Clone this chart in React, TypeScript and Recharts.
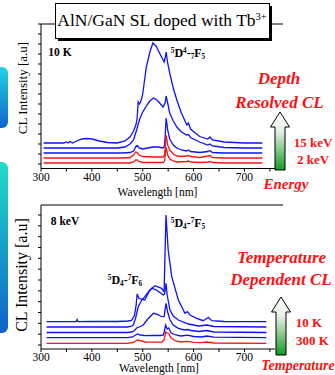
import React from 'react';
import { LineChart, Line, XAxis, YAxis } from 'recharts';

const blue = '#1010ff';
const red = '#ff1010';
const serif = "'Times New Roman', 'Liberation Serif', 'DejaVu Serif', serif";

// wavelength ticks (nm), only hundreds are labelled
const xTicks = [300, 350, 400, 450, 500, 550, 600, 650, 700, 750];

// depth resolved CL at 10 K, curves from top (15 keV) to bottom (2 keV)
const depth1 = [[305, 21], [345, 21], [350, 22], [353, 21], [357, 22.5], [362, 21], [370, 23], [380, 25], [390, 25.5], [400, 25], [415, 23], [430, 21.5], [450, 21], [465, 23], [475, 27], [482, 33], [487, 40], [489, 46], [491, 62], [493, 60], [496, 62], [500, 70], [507, 97], [514, 112], [520, 121], [526, 118], [533, 111], [538, 106], [542, 102], [544, 106], [546, 112], [549, 101], [553, 91], [560, 76], [567, 64], [576, 51], [584, 42], [587, 39], [590, 41], [594, 35], [612, 27.5], [628, 25], [632, 27], [637, 24], [660, 22], [700, 21], [735, 21]];
const depth2 = [[305, 16], [450, 16], [465, 17], [475, 20], [482, 24], [488, 34], [494, 45], [500, 52], [507, 58], [514, 63], [521, 66], [528, 64], [535, 60], [540, 57], [544, 61], [546, 68], [549, 61], [553, 51], [560, 43], [567, 37], [576, 32], [586, 29], [590, 29.5], [594, 26.5], [612, 22], [628, 19], [632, 20], [637, 18], [660, 16.5], [700, 16], [735, 16]];
const depth3 = [[305, 11], [460, 11], [475, 11.5], [482, 13], [486, 17], [489, 18.5], [493, 16], [500, 15], [510, 16], [520, 17], [530, 17], [540, 16], [543, 18], [546, 46], [549, 34], [553, 25], [560, 19], [567, 16], [576, 14], [586, 13], [590, 14], [594, 12.5], [612, 11.5], [628, 12.5], [632, 13.5], [637, 11.5], [660, 11], [735, 11]];
const depth4 = [[305, 6], [460, 6], [475, 6.5], [482, 9], [486, 12], [489, 11.5], [493, 9], [500, 7.5], [520, 7], [540, 7], [543, 9], [546, 29], [549, 19], [553, 14], [560, 10], [567, 8], [576, 7.5], [586, 8], [590, 8.5], [594, 7.5], [612, 6.5], [628, 8], [632, 8.5], [637, 6.5], [660, 6], [735, 6]];
const depth5 = [[305, 1], [460, 1], [475, 1], [482, 2], [486, 4], [489, 4], [493, 2.5], [500, 1.5], [540, 1.5], [543, 3], [546, 17], [549, 9], [553, 5], [560, 3], [567, 2], [586, 2.5], [590, 3], [594, 2], [612, 1.5], [628, 2], [632, 2.5], [637, 1.5], [660, 1], [735, 1]];

// temperature dependent CL at 8 keV, curves from top (10 K) to bottom (300 K)
const temp1 = [[311, 23.3], [365, 23.3], [369, 23.3], [371, 25.5], [373, 23.3], [400, 23.5], [450, 23.5], [470, 24], [478, 24.5], [484, 30], [487, 40], [489, 51], [492, 47], [496, 46], [504, 45], [514, 55], [524, 59.3], [537, 56.7], [542, 53.3], [545.7, 130], [550, 95], [557, 68.3], [570, 45], [583, 31.7], [587.6, 33.3], [593, 30], [606, 26.7], [619, 24.3], [629, 27.7], [635.5, 24.3], [660, 23.5], [700, 23.3], [743, 23.3]];
const temp2 = [[311, 18], [470, 18], [476, 18.5], [481.5, 20], [486, 27], [491, 38], [497, 44], [504, 48.3], [511, 53], [518, 56.7], [527, 55], [535, 52], [540, 50], [543, 51], [545.7, 61.7], [548, 50], [553.6, 35], [560, 29], [570, 25], [589.5, 21], [595, 20.5], [610, 19], [626, 20], [640, 18.5], [743, 18]];
const temp3 = [[311, 12.5], [470, 12.5], [478, 13], [484, 14.5], [488, 17], [495, 18.5], [501, 20], [510, 26], [521, 31.7], [530, 30.5], [537, 28.3], [542, 28.5], [545.7, 41.7], [549, 33], [553.6, 25], [560, 20], [570, 16.7], [582, 15], [588, 15.5], [595, 14.5], [610, 13.5], [626, 14.5], [640, 13], [743, 12.5]];
const temp4 = [[311, 7.3], [470, 7.3], [480, 8], [486, 10], [490, 11], [495, 10], [505, 9.3], [520, 9.5], [535, 9.5], [541, 10], [545, 20], [548, 16], [551, 17], [556, 12], [565, 10], [575, 9], [588, 9.8], [600, 8.5], [615, 8], [626, 9], [640, 7.8], [743, 7.3]];
const temp5 = [[311, 1.7], [470, 1.7], [480, 2.5], [486, 4], [490, 5], [495, 4.3], [505, 3], [520, 2.8], [538, 3], [542, 5], [545, 13], [548, 12], [551, 11.5], [556, 7], [565, 4], [575, 3], [588, 3.6], [600, 2.6], [615, 2.3], [626, 3], [640, 2], [743, 1.7]];

const depthCurves = [depth1, depth2, depth3, depth4, depth5];
const depthColors = [blue, blue, blue, red, red];
const tempCurves = [temp1, temp2, temp3, temp4, temp5];
const tempColors = [blue, blue, blue, blue, red];

const depthYTicks = Array.from({ length: 15 }, (_, i) => i * 10);
const tempYTicks = Array.from({ length: 13 }, (_, i) => (i * 130) / 12);

const toPoints = (c: number[][]) => c.map(([x, y]) => ({ x, y }));

function Panel({ curves, colors, top, height, mTop, mBottom, yDomain, yTicks }: any) {
  return (
    <div style={{ position: 'absolute', left: 0, top, width: 335, height }}>
      <LineChart width={335} height={height} margin={{ top: mTop, right: 60, bottom: mBottom, left: 38 }}>
        <XAxis
          type="number"
          dataKey="x"
          domain={[300, 760]}
          ticks={xTicks}
          height={20}
          tickSize={3}
          tickMargin={1}
          tickFormatter={(v: number) => (v % 100 === 0 ? String(v) : '')}
          tick={{ fontSize: 11.5, fill: '#000', fontFamily: serif }}
          axisLine={{ stroke: '#000' }}
          tickLine={{ stroke: '#000' }}
          allowDataOverflow
        />
        <YAxis
          type="number"
          domain={yDomain}
          ticks={yTicks}
          width={3}
          tickSize={3}
          tickFormatter={() => ''}
          axisLine={{ stroke: '#000' }}
          tickLine={{ stroke: '#000' }}
          allowDataOverflow
        />
        {curves.map((c: number[][], i: number) => (
          <Line
            key={i}
            data={toPoints(c)}
            dataKey="y"
            type="linear"
            stroke={colors[i]}
            strokeWidth={1.3}
            dot={false}
            isAnimationActive={false}
          />
        ))}
      </LineChart>
    </div>
  );
}

function Txt({ x, y, size, bold, italic, color, rotate, children }: any) {
  return (
    <div
      style={{
        position: 'absolute',
        left: x,
        top: y,
        transform: `translate(-50%, -50%)${rotate ? ' rotate(-90deg)' : ''}`,
        fontSize: size,
        fontWeight: bold ? 'bold' : 'normal',
        fontStyle: italic ? 'italic' : 'normal',
        color: color || '#000',
        whiteSpace: 'nowrap',
        lineHeight: 1,
        fontFamily: serif,
      }}
    >
      {children}
    </div>
  );
}

const supS = { fontSize: '0.6em', verticalAlign: '0.6em' };
const subS = { fontSize: '0.6em', verticalAlign: '-0.25em' };

function Arrow({ cx, tip, base, bottom, id }: any) {
  const pts = [
    [cx, tip], [cx + 9.5, base], [cx + 5, base], [cx + 5, bottom],
    [cx - 5, bottom], [cx - 5, base], [cx - 9.5, base],
  ].map((p) => p.join(',')).join(' ');
  return <polygon points={pts} fill={`url(#${id})`} stroke="#000" strokeWidth={1} />;
}

export default function App() {
  return (
    <div style={{ position: 'absolute', left: 0, top: 0, width: 335, height: 375, background: '#fff', overflow: 'hidden', fontFamily: serif }}>
      <Panel curves={depthCurves} colors={depthColors} top={0} height={200} mTop={24} mBottom={11.5} yDomain={[-4.5, 140]} yTicks={depthYTicks} />
      <Panel curves={tempCurves} colors={tempColors} top={185} height={190} mTop={20} mBottom={6} yDomain={[-4, 140]} yTicks={tempYTicks} />

      <svg width={335} height={375} style={{ position: 'absolute', left: 0, top: 0, pointerEvents: 'none' }}>
        <defs>
          <linearGradient id="blobA" x1="0" y1="0" x2="0" y2="1">
            <stop offset="0" stopColor="#22d2e0" />
            <stop offset="1" stopColor="#1064cc" />
          </linearGradient>
          <linearGradient id="blobB" x1="0" y1="0" x2="0" y2="1">
            <stop offset="0" stopColor="#22dcc8" />
            <stop offset="1" stopColor="#0e62c8" />
          </linearGradient>
          <linearGradient id="arrowG" x1="0" y1="0" x2="0" y2="1">
            <stop offset="0" stopColor="#ffffff" />
            <stop offset="0.35" stopColor="#e4efe4" />
            <stop offset="1" stopColor="#129a22" />
          </linearGradient>
        </defs>
        <rect x={-10} y={67} width={18} height={61} rx={6} fill="url(#blobA)" />
        <rect x={-10} y={162} width={18} height={171} rx={6} fill="url(#blobB)" />
        <line x1={41} y1={24} x2={283} y2={24} stroke="#000" />
        <line x1={41} y1={205} x2={283} y2={205} stroke="#000" />
        <rect x={58} y={6} width={214} height={35} fill="#000" />
        <rect x={55.5} y={3.5} width={214} height={35} fill="#fff" stroke="#000" />
        <Arrow cx={280} tip={112} base={127} bottom={170} id="arrowG" />
        <Arrow cx={281} tip={297} base={312} bottom={355} id="arrowG" />
      </svg>

      <Txt x={162} y={21} size={17.5}>AlN/GaN SL doped with Tb<span style={supS}>3+</span></Txt>
      <Txt x={22} y={88} size={13} rotate>CL Intensity [a.u]</Txt>
      <Txt x={22} y={275} size={16} rotate>CL Intensity [a.u]</Txt>
      <Txt x={157.5} y={192.5} size={11.5}>Wavelength [nm]</Txt>
      <Txt x={159} y={369} size={11.5}>Wavelength [nm]</Txt>

      <Txt x={60} y={53} size={11.5} bold>10 K</Txt>
      <Txt x={65} y={222} size={11.5} bold>8 keV</Txt>
      <Txt x={188} y={54} size={12} bold>
        <span style={supS}>5</span>D<span style={supS}>4</span>-<span style={subS}>7</span>F<span style={subS}>5</span>
      </Txt>
      <Txt x={188} y={224} size={12} bold>
        <span style={supS}>5</span>D<span style={subS}>4</span>-<span style={supS}>7</span>F<span style={subS}>5</span>
      </Txt>
      <Txt x={125} y={281} size={12} bold>
        <span style={supS}>5</span>D<span style={subS}>4</span>-<span style={supS}>7</span>F<span style={subS}>6</span>
      </Txt>

      <Txt x={279} y={78} size={17} bold italic color={red}>Depth</Txt>
      <Txt x={279.5} y={101.5} size={17} bold italic color={red}>Resolved CL</Txt>
      <Txt x={313} y={142} size={13} bold color={red}>15 keV</Txt>
      <Txt x={313} y={159} size={13} bold color={red}>2 keV</Txt>
      <Txt x={286} y={184} size={15} bold italic color={red}>Energy</Txt>

      <Txt x={281.5} y={257} size={17} bold italic color={red}>Temperature</Txt>
      <Txt x={281} y={279} size={17} bold italic color={red}>Dependent CL</Txt>
      <Txt x={309} y={322} size={13} bold color={red}>10 K</Txt>
      <Txt x={312.5} y={340} size={13} bold color={red}>300 K</Txt>
      <Txt x={298} y={366} size={14} bold italic color={red}>Temperature</Txt>
    </div>
  );
}
